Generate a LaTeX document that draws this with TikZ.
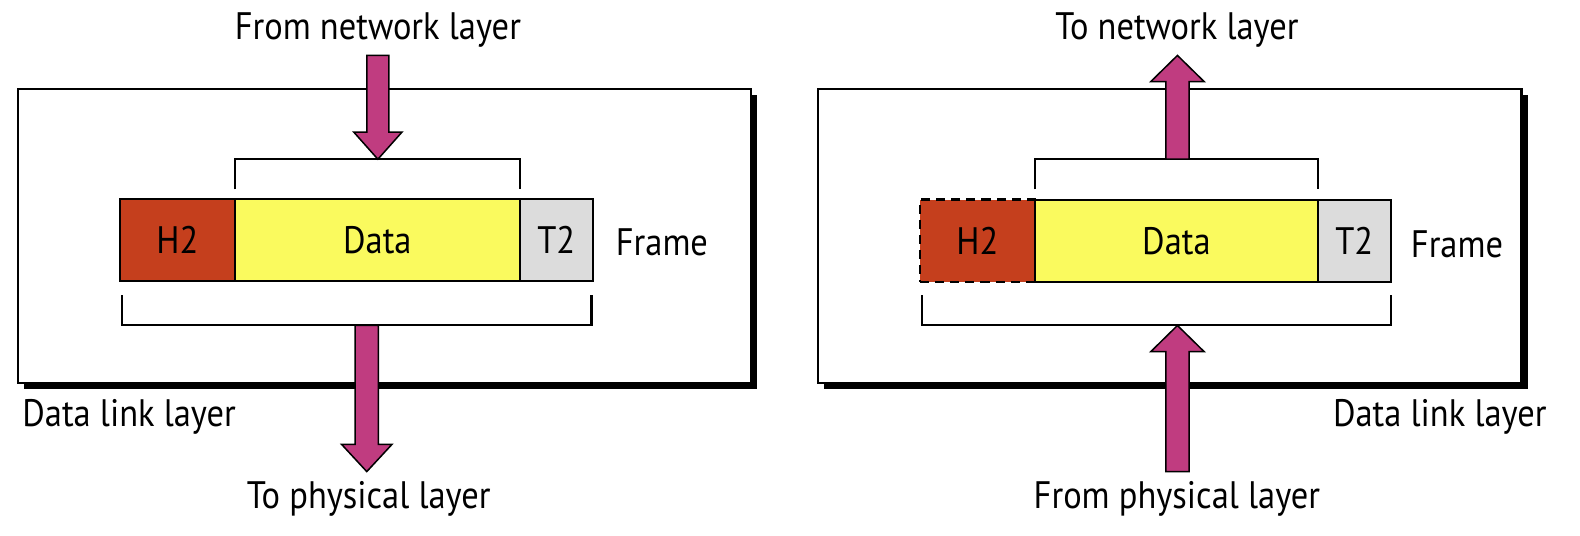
\documentclass[tikz,border=0pt]{standalone}
\usepackage{fontspec}
\setmainfont{PT Sans}[FakeStretch=0.9]
\definecolor{hcol}{HTML}{C53F1D}
\definecolor{dcol}{HTML}{FAFA5E}
\definecolor{tcol}{HTML}{DCDCDC}
\definecolor{acol}{HTML}{C03C80}
\begin{document}
\begin{tikzpicture}[x=1pt,y=-1pt,
  lbl/.style={font=\fontsize{38}{44}\selectfont, inner sep=0pt},
  part/.style={draw=black, line width=2pt, minimum height=82pt, inner sep=0pt, font=\fontsize{38}{44}\selectfont},
  layerbox/.style={draw=black, fill=white, line width=2.2pt},
  shadowbox/.style={fill=black},
  brk/.style={draw=black, line width=2pt},
  dashbox/.style={line width=2.6pt, dash pattern=on 9pt off 6pt},
  blockarrow/.style={draw=black, fill=acol, line width=1.5pt, line join=miter}]
\useasboundingbox (0,0) rectangle (1568,531);
% ---------- left ----------
\fill[shadowbox] (24,94) rectangle (751,386);
\draw[layerbox] (18,88) rectangle (745,380);
\node[part, fill=hcol, minimum width=114pt] (lh) at (176,238) {H2};
\node[part, fill=dcol, minimum width=283pt] (ld) at (374.5,238) {Data};
\node[part, fill=tcol, minimum width=72pt] (lt) at (552,238) {T2};
\node[lbl, anchor=west] (lf) at (611,240) {Frame};
\draw[brk] (233,188) -- (233,158) -- (516,158) -- (516,188);
\draw[brk] (121,293) -- (121,323) -- (587,323) -- (587,293);
\node[lbl] (lfrom) at (375,30) {From network layer};
\node[lbl] (lto) at (366,495) {To physical layer};
\node[lbl, anchor=west] (ldl) at (22,414) {Data link layer};
\coordinate (la1) at (375,158);
\coordinate (la2) at (364,468);
\draw[blockarrow] (364,55) -- (386,55) -- (386,131) -- (399,131) -- (la1) -- (351,131) -- (364,131) -- cycle;
\draw[blockarrow] (352.5,323) -- (375.5,323) -- (375.5,441) -- (389,441) -- (la2) -- (339,441) -- (352.5,441) -- cycle;
% ---------- right ----------
\fill[shadowbox] (818,94) rectangle (1516,386);
\draw[layerbox] (812,88) rectangle (1510,380);
\node[part, fill=hcol, minimum width=114pt, dashbox] (rh) at (970,239) {H2};
\node[part, fill=dcol, minimum width=281pt] (rd) at (1167.5,239) {Data};
\node[part, fill=tcol, minimum width=72pt] (rt) at (1344,239) {T2};
\node[lbl, anchor=west] (rf) at (1400,242) {Frame};
\draw[brk] (1027,188) -- (1027,158) -- (1308,158) -- (1308,188);
\draw[brk] (915,293) -- (915,323) -- (1380,323) -- (1380,293);
\node[lbl] (rto) at (1168,30) {To network layer};
\node[lbl] (rfrom) at (1168,495) {From physical layer};
\node[lbl, anchor=east] (rdl) at (1535,414) {Data link layer};
\coordinate (ra1) at (1168.5,55);
\coordinate (ra2) at (1168.5,323);
\draw[blockarrow] (1157,158) -- (1180,158) -- (1180,81) -- (1195,81) -- (ra1) -- (1142,81) -- (1157,81) -- cycle;
\draw[blockarrow] (1157,468) -- (1180,468) -- (1180,349) -- (1195,349) -- (ra2) -- (1142,349) -- (1157,349) -- cycle;
\end{tikzpicture}
\end{document}
